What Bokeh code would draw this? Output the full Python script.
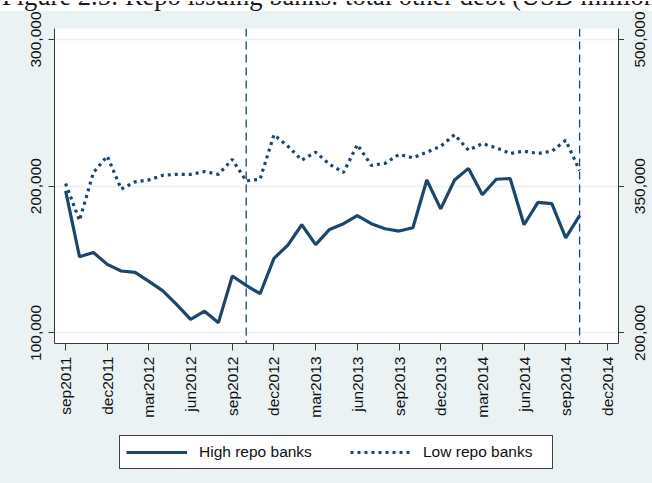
import pandas as pd
from bokeh.embed import file_html
from bokeh.layouts import column, row
from bokeh.models import (ColumnDataSource, Div, FixedTicker, Legend, LegendItem,
                          LinearAxis, NumeralTickFormatter, Range1d, Span)
from bokeh.plotting import figure
from bokeh.resources import INLINE
from math import pi

# ---- data (USD millions) -------------------------------------------------
months = pd.period_range("2011-09", "2014-10", freq="M").strftime("%Y-%m").tolist()

high_repo = [196800, 151900, 154800, 146700, 142200, 141300, 135100, 128700,
             119300, 109200, 114800, 107000, 138800, 132400, 126700, 150800,
             159800, 173700, 160200, 170500, 174400, 180000, 174400, 171000,
             169400, 171700, 204200, 184500, 204200, 212100, 194100, 204700,
             205200, 173700, 189000, 188100, 164700, 180000]

low_repo = [352700, 314900, 363900, 380700, 347000, 354400, 356400, 361100,
            362100, 362100, 364900, 362100, 377300, 355400, 357100, 402600,
            390800, 376600, 384700, 372300, 363900, 392500, 371300, 373300,
            382400, 379000, 384700, 390800, 402600, 386700, 393500, 389200,
            383400, 385700, 383400, 385700, 396800, 366000]

series_names = ["High repo banks", "Low repo banks"]

event_months = ["2012-10", "2014-10"]

tick_months = ["2011-09", "2011-12", "2012-03", "2012-06", "2012-09", "2012-12",
               "2013-03", "2013-06", "2013-09", "2013-12", "2014-03", "2014-06",
               "2014-09", "2014-12"]
tick_labels = ["sep2011", "dec2011", "mar2012", "jun2012", "sep2012", "dec2012",
               "mar2013", "jun2013", "sep2013", "dec2013", "mar2014", "jun2014",
               "sep2014", "dec2014"]

left_ticks = [100000, 200000, 300000]
right_ticks = [200000, 350000, 500000]

caption = "Figure 2.5: Repo issuing banks: total other debt (USD millions)"

# ---- styling -------------------------------------------------------------
NAVY = "#1a476f"
BG = "#eaf2f3"
FONT = "Liberation Sans"
FSIZE = "15.5px"
AXIS = "#3a3a3a"
LABEL = "#111111"

CHART_H = 409            # height of the chart row
TOP, BOTTOM = 17, 74     # borders above / below the plotting frame
LEFT_RANGE = (92800, 307400)
RIGHT_RANGE = (189200, 511100)

HIGH_STYLE = dict(line_color=NAVY, line_width=3.2)
LOW_STYLE = dict(line_color=NAVY, line_width=3.2, line_dash="3 4")


def month_pos(ym):
    y, m = map(int, ym.split("-"))
    y0, m0 = map(int, months[0].split("-"))
    return (y - y0) * 12 + (m - m0)


x = [month_pos(m) for m in months]
tick_pos = [month_pos(m) for m in tick_months]

src = ColumnDataSource(dict(x=x, high=high_repo, low=low_repo))

# ---- caption strip (clipped text line) -----------------------------------
head = Div(
    text=('<div style="width:652px;height:11px;overflow:hidden;position:relative;'
          'background:white;margin:0;padding:0">'
          '<span style="position:absolute;left:2px;top:-18px;white-space:nowrap;'
          "font-family:'Liberation Serif';font-size:26.5px;line-height:26px;"
          f'color:#1a1a1a">{caption}</span></div>'),
    width=652, height=11, margin=(0, 0, 0, 0),
    styles={"overflow": "hidden", "background-color": "white"})

# ---- main chart ----------------------------------------------------------
p = figure(width=624, height=CHART_H, output_backend="svg", toolbar_location=None,
           x_range=Range1d(-0.8, 39.8), y_range=Range1d(*LEFT_RANGE),
           min_border_left=54, min_border_right=6, min_border_top=TOP,
           min_border_bottom=BOTTOM, background_fill_color="white",
           border_fill_color=BG, outline_line_color=None)
p.extra_y_ranges = {"right": Range1d(*RIGHT_RANGE)}

p.xgrid.visible = False
p.ygrid.ticker = FixedTicker(ticks=left_ticks)
p.ygrid.grid_line_color = BG
p.ygrid.grid_line_width = 1.5

xa = p.xaxis[0]
xa.ticker = FixedTicker(ticks=tick_pos)
xa.major_label_overrides = {pos: lab for pos, lab in zip(tick_pos, tick_labels)}
xa.major_label_orientation = pi / 2
xa.major_tick_in = 0
xa.major_tick_out = 7
xa.major_label_standoff = 6

ya = p.yaxis[0]
ya.ticker = FixedTicker(ticks=left_ticks)
ya.formatter = NumeralTickFormatter(format="0,0")
ya.major_label_orientation = "parallel"
ya.major_tick_in = 0
ya.major_tick_out = 6
ya.major_label_standoff = 7

# right axis: line and ticks here, its labels are set in the side strip
ra = LinearAxis(y_range_name="right", ticker=FixedTicker(ticks=right_ticks))
ra.major_label_overrides = {t: "" for t in right_ticks}
ra.major_label_standoff = 0
ra.major_tick_in = 0
ra.major_tick_out = 6
p.add_layout(ra, "right")

for ax in (xa, ya, ra):
    ax.minor_tick_line_color = None
    ax.axis_line_color = AXIS
    ax.major_tick_line_color = AXIS
    ax.major_label_text_font = FONT
    ax.major_label_text_font_size = FSIZE
    ax.major_label_text_color = LABEL
ra.major_label_text_font_size = "0px"

p.line("x", "high", source=src, **HIGH_STYLE)
p.line("x", "low", source=src, y_range_name="right", **LOW_STYLE)

for ev in event_months:
    p.add_layout(Span(location=month_pos(ev), dimension="height",
                      line_color=NAVY, line_width=1.3, line_dash="8 5"))

# ---- right-hand tick labels (read bottom to top) -------------------------
side = figure(width=28, height=CHART_H, output_backend="svg", toolbar_location=None,
              x_range=Range1d(0, 1), y_range=Range1d(*RIGHT_RANGE),
              x_axis_location=None, min_border_left=21, min_border_right=0,
              min_border_top=TOP, min_border_bottom=BOTTOM,
              background_fill_color=BG, border_fill_color=BG, outline_line_color=None)
side.grid.visible = False
sa = side.yaxis[0]
sa.ticker = FixedTicker(ticks=right_ticks)
sa.formatter = NumeralTickFormatter(format="0,0")
sa.major_label_orientation = "parallel"
sa.axis_line_color = None
sa.major_tick_line_color = None
sa.minor_tick_line_color = None
sa.major_tick_in = 0
sa.major_tick_out = 0
sa.major_label_standoff = 0
sa.major_label_text_font = FONT
sa.major_label_text_font_size = FSIZE
sa.major_label_text_color = LABEL

# ---- legend strip --------------------------------------------------------
foot = figure(width=652, height=63, output_backend="svg", toolbar_location=None,
              x_range=Range1d(0, 1), y_range=Range1d(0, 1),
              x_axis_location=None, y_axis_location=None,
              min_border_left=20, min_border_right=0, min_border_top=0,
              min_border_bottom=0, background_fill_color=BG, border_fill_color=BG,
              outline_line_color=None)
foot.grid.visible = False
# key glyphs only: their points sit outside the strip's ranges
k_high = foot.line(x=[5, 6], y=[5, 6], **HIGH_STYLE)
k_low = foot.line(x=[5, 6], y=[5, 6], **LOW_STYLE)

legend = Legend(items=[LegendItem(label=series_names[0], renderers=[k_high]),
                       LegendItem(label=series_names[1], renderers=[k_low])],
                orientation="horizontal", location="center", padding=6,
                spacing=28, glyph_width=61, glyph_height=20, label_width=123,
                label_height=20, label_standoff=12, label_text_font=FONT,
                label_text_font_size=FSIZE, label_text_color=LABEL,
                border_line_color="#404040", border_line_width=1.2,
                border_line_alpha=1.0, background_fill_color="white",
                background_fill_alpha=1, margin=0)
foot.add_layout(legend, "center")

layout = column(head, row(p, side, spacing=0), foot, spacing=0,
                styles={"background-color": BG})

with open("out.html", "w") as f:
    f.write(file_html(layout, INLINE))
